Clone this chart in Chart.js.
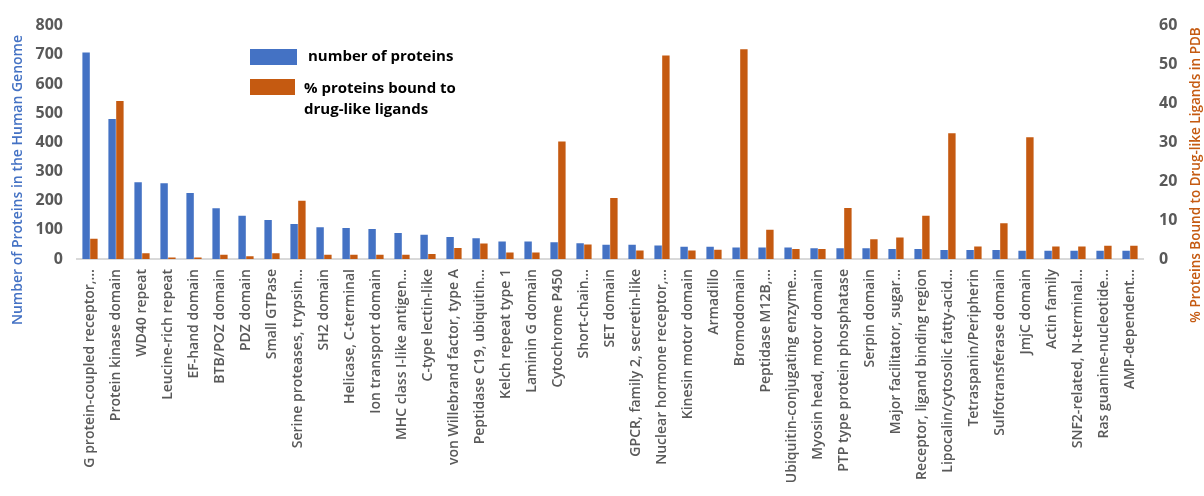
<!DOCTYPE html>
<html>
<head>
<meta charset="utf-8">
<script src="https://cdn.jsdelivr.net/npm/chart.js@4/dist/chart.umd.min.js"></script>
<style>
    html, body { margin: 0; padding: 0; background: #ffffff; }
    #wrap { width: 1204px; height: 496px; position: relative; }
</style>
</head>
<body>
<div id="wrap"><canvas id="chart"></canvas></div>
<script>
// Domain families (x axis)
const domains = [
    'G protein-coupled receptor,…', 'Protein kinase domain', 'WD40 repeat', 'Leucine-rich repeat',
    'EF-hand domain', 'BTB/POZ domain', 'PDZ domain', 'Small GTPase', 'Serine proteases, trypsin…',
    'SH2 domain', 'Helicase, C-terminal', 'Ion transport domain', 'MHC class I-like antigen…',
    'C-type lectin-like', 'von Willebrand factor, type A', 'Peptidase C19, ubiquitin…',
    'Kelch repeat type 1', 'Laminin G domain', 'Cytochrome P450', 'Short-chain…', 'SET domain',
    'GPCR, family 2, secretin-like', 'Nuclear hormone receptor,…', 'Kinesin motor domain',
    'Armadillo', 'Bromodomain', 'Peptidase M12B,…', 'Ubiquitin-conjugating enzyme…',
    'Myosin head, motor domain', 'PTP type protein phosphatase', 'Serpin domain',
    'Major facilitator, sugar…', 'Receptor, ligand binding region', 'Lipocalin/cytosolic fatty-acid…',
    'Tetraspanin/Peripherin', 'Sulfotransferase domain', 'JmjC domain', 'Actin family',
    'SNF2-related, N-terminal…', 'Ras guanine-nucleotide…', 'AMP-dependent…'
];

// number of proteins (left axis)
const proteinCounts = [
    708, 480, 263, 260, 226, 174, 148, 134, 120, 109, 106, 103, 89, 83, 75, 71,
    60, 60, 57, 54, 49, 49, 46, 42, 42, 39, 39, 39, 37, 37, 37, 34, 34, 31, 31, 31,
    28, 28, 28, 28, 28
];

// % proteins bound to drug-like ligands (right axis)
const percentBound = [
    5.2, 40.6, 1.5, 0.4, 0.4, 1.1, 0.7, 1.5, 15.0, 1.1, 1.1, 1.1, 1.1, 1.3, 2.8, 4.0,
    1.7, 1.7, 30.2, 3.7, 15.7, 2.2, 52.3, 2.2, 2.4, 53.9, 7.5, 2.6, 2.6, 13.1, 5.1,
    5.5, 11.1, 32.3, 3.2, 9.2, 31.3, 3.2, 3.2, 3.4, 3.4
];

const leftTicks = [0, 100, 200, 300, 400, 500, 600, 700, 800];
const rightTicks = [0, 10, 20, 30, 40, 50, 60];

const leftTitle = 'Number of Proteins in the Human Genome';
const rightTitle = '% Proteins Bound to Drug-like Ligands in PDB';

const BLUE = '#4472C4';
const ORANGE = '#C55A11';
const GREY = '#595959';

// legend inside the plot and the two axis titles (they hang below the plot in the original)
const extras = {
    id: 'extras',
    afterDraw(chart) {
        const ctx = chart.ctx;
        const sets = chart.data.datasets;
        ctx.save();
        ctx.font = 'bold 15px "Open Sans"';
        ctx.textBaseline = 'middle';
        ctx.fillStyle = sets[0].backgroundColor;
        ctx.fillRect(250, 49, 47, 16);
        ctx.fillStyle = '#000000';
        ctx.fillText(sets[0].label, 308, 57);
        ctx.fillStyle = sets[1].backgroundColor;
        ctx.fillRect(250, 79, 45, 16);
        ctx.fillStyle = '#000000';
        sets[1].label.split('\n').forEach((ln, i) => ctx.fillText(ln, 304, 89 + i * 21));

        // axis titles
        ctx.textAlign = 'center';
        ctx.font = '600 14px "Open Sans"';
        ctx.fillStyle = BLUE;
        ctx.translate(18, 180);
        ctx.rotate(-Math.PI / 2);
        ctx.fillText(leftTitle, 0, 0);
        ctx.restore();

        ctx.save();
        ctx.textAlign = 'center';
        ctx.textBaseline = 'middle';
        ctx.font = '600 13.5px "Open Sans"';
        ctx.fillStyle = ORANGE;
        ctx.translate(1196, 175);
        ctx.rotate(-Math.PI / 2);
        ctx.fillText(rightTitle, 0, 0);
        ctx.restore();
    }
};

new Chart(document.getElementById('chart'), {
    type: 'bar',
    data: {
        labels: domains,
        datasets: [{
            label: 'number of proteins',
            data: proteinCounts,
            backgroundColor: BLUE,
            yAxisID: 'y',
            categoryPercentage: 0.6,
            barPercentage: 0.95
        }, {
            label: '% proteins bound to\ndrug-like ligands',
            data: percentBound,
            backgroundColor: ORANGE,
            yAxisID: 'y1',
            categoryPercentage: 0.6,
            barPercentage: 0.95
        }]
    },
    options: {
        responsive: true,
        maintainAspectRatio: false,
        animation: false,
        layout: { padding: { left: 0, right: 0, top: 17, bottom: 0 } },
        plugins: {
            legend: { display: false },
            tooltip: { enabled: false }
        },
        scales: {
            x: {
                grid: { display: false, drawTicks: false },
                border: { color: '#D9D9D9', width: 2 },
                ticks: {
                    autoSkip: false,
                    minRotation: 90,
                    maxRotation: 90,
                    padding: 10,
                    color: GREY,
                    font: { family: 'Open Sans', size: 14, weight: '600' }
                },
                afterFit: (scale) => { scale.height = 237; }
            },
            y: {
                position: 'left',
                min: 0,
                max: 800,
                afterBuildTicks: (scale) => { scale.ticks = leftTicks.map(v => ({ value: v })); },
                grid: { display: false, drawTicks: false },
                border: { display: false },
                ticks: {
                    padding: 14,
                    color: GREY,
                    font: { family: 'Open Sans', size: 16, weight: 'bold' }
                },
                afterFit: (scale) => { scale.width = 77; }
            },
            y1: {
                position: 'right',
                min: 0,
                max: 60,
                afterBuildTicks: (scale) => { scale.ticks = rightTicks.map(v => ({ value: v })); },
                grid: { display: false, drawTicks: false },
                border: { display: false },
                ticks: {
                    padding: 16,
                    color: GREY,
                    font: { family: 'Open Sans', size: 16, weight: 'bold' }
                },
                afterFit: (scale) => { scale.width = 61; }
            }
        }
    },
    plugins: [extras]
});
</script>
</body>
</html>
